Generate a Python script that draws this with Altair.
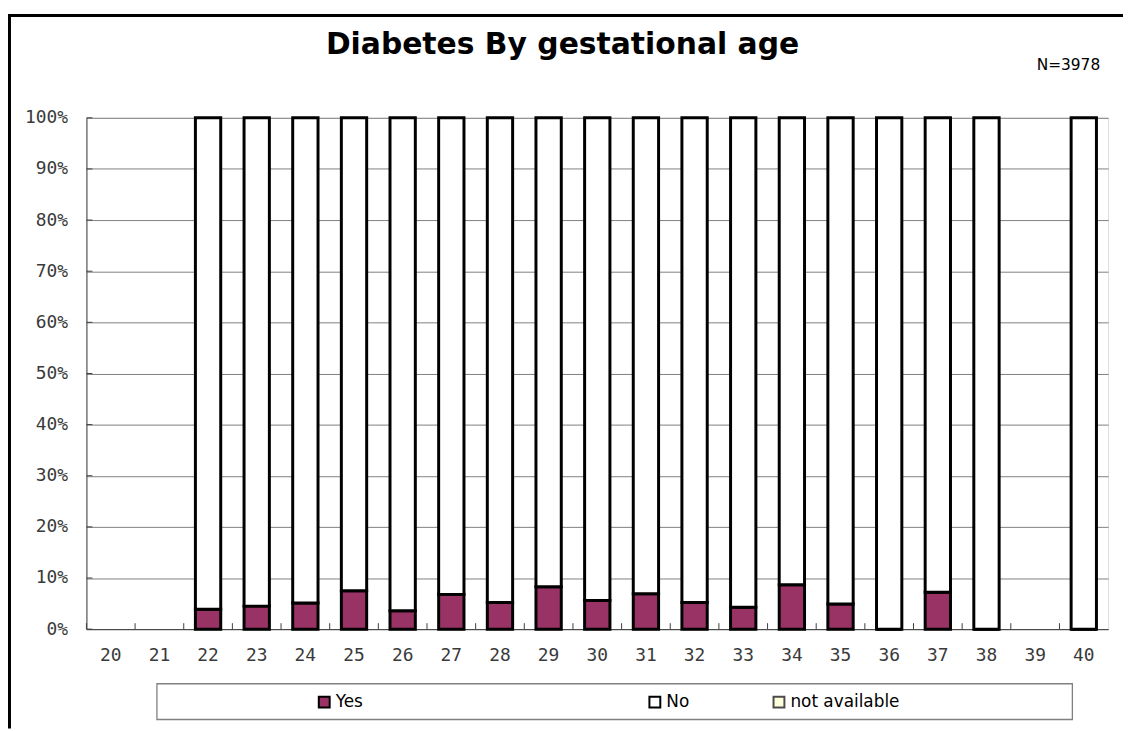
import altair as alt
import pandas as pd

# ---- data ----
ages = [str(a) for a in range(20, 41)]
series = ["Yes", "No", "not available"]
colors = ["#993366", "#FFFFFF", "#FFFFCC"]

bar_ages = ["22", "23", "24", "25", "26", "27", "28", "29", "30", "31",
            "32", "33", "34", "35", "36", "37", "38", "40"]
yes_pct = [3.9, 4.5, 5.1, 7.5, 3.6, 6.8, 5.2, 8.3, 5.6, 6.9,
           5.2, 4.3, 8.7, 4.9, 0.0, 7.2, 0.0, 0.0]
no_pct = [96.1, 95.5, 94.9, 92.5, 96.4, 93.2, 94.8, 91.7, 94.4, 93.1,
          94.8, 95.7, 91.3, 95.1, 100.0, 92.8, 100.0, 100.0]
na_pct = [0.0, 0.0, 0.0, 0.0, 0.0, 0.0, 0.0, 0.0, 0.0, 0.0,
          0.0, 0.0, 0.0, 0.0, 0.0, 0.0, 0.0, 0.0]
y_ticks = [0, 10, 20, 30, 40, 50, 60, 70, 80, 90, 100]
title_text = "Diabetes By gestational age"
n_text = "N=3978"

rows = []
for a, y, n in zip(bar_ages, yes_pct, no_pct):
    rows.append({"age": a, "series": series[0], "pct": y, "ord": 0})
    rows.append({"age": a, "series": series[1], "pct": n, "ord": 1})
df = pd.DataFrame(rows)
na_df = pd.DataFrame({"age": bar_ages, "pct": na_pct, "series": series[2]})

W, H = 1029, 515
AX = "#404040"
mono = "DejaVu Sans Mono"
sans = "DejaVu Sans"

x_scale = alt.Scale(domain=ages, paddingInner=0, paddingOuter=0)
y_scale = alt.Scale(domain=[0, 100], nice=False)

legend_common = dict(title=None, orient="none", direction="horizontal",
                     symbolType="square", symbolSize=120,
                     symbolStrokeColor="black", symbolStrokeWidth=2,
                     symbolOffset=0, labelFont=sans, labelFontSize=17,
                     labelColor="black", labelOffset=3, padding=0)

bars = alt.Chart(df).mark_bar(size=25.5, stroke="black", strokeWidth=3).encode(
    x=alt.X("age:O", scale=x_scale, sort=ages,
            axis=alt.Axis(title=None, labelAngle=0, ticks=False, tickSize=0,
                          labelFont=mono, labelFontSize=18, labelColor="#3a3a3a",
                          labelPadding=18, domainColor=AX, grid=False)),
    y=alt.Y("pct:Q", scale=y_scale, stack="zero",
            axis=alt.Axis(title=None, values=y_ticks, labelExpr="datum.value + '%'",
                          ticks=False, tickSize=0, labelFont=mono, labelFontSize=18,
                          labelColor="#3a3a3a", labelPadding=19, domainColor=AX,
                          grid=True, gridColor="#808080", gridWidth=1)),
    color=alt.Color("series:N", scale=alt.Scale(domain=series[:2], range=colors[:2]),
                    legend=alt.Legend(legendX=231, legendY=580, columns=2,
                                      columnPadding=284, **legend_common)),
    order=alt.Order("ord:Q", sort="ascending"),
)

# "not available" is 0% everywhere: zero-size points that only carry its legend entry
na_layer = alt.Chart(na_df).mark_square(size=0, strokeWidth=0).encode(
    x=alt.X("age:O"),
    y=alt.Y("pct:Q"),
    fill=alt.Fill("series:N", scale=alt.Scale(domain=series[2:], range=colors[2:]),
                  legend=alt.Legend(legendX=689, legendY=580, **legend_common)),
)

x_ticks = alt.Chart(pd.DataFrame({"age": ages})).mark_rule(color=AX, strokeWidth=1).encode(
    x=alt.X("age:O", bandPosition=0),
    y=alt.value(H),
    y2=alt.value(H - 6),
)

y_tick_marks = alt.Chart(pd.DataFrame({"pct": y_ticks})).mark_rule(color=AX, strokeWidth=1).encode(
    y=alt.Y("pct:Q"),
    x=alt.value(0),
    x2=alt.value(6),
)

one = alt.Data(values=[{"k": 1}])

legend_box = alt.Chart(one).mark_rect(fill="white", stroke="#808080", strokeWidth=1.3).encode(
    x=alt.value(71), x2=alt.value(993), y=alt.value(570), y2=alt.value(606)
)

frame_left = alt.Chart(one).mark_rule(color="black", strokeWidth=3).encode(
    x=alt.value(-77.5), y=alt.value(-104), y2=alt.value(H + 100)
)
frame_top = alt.Chart(one).mark_rule(color="black", strokeWidth=3).encode(
    x=alt.value(-79), x2=alt.value(W + 15), y=alt.value(-103)
)

n_label = alt.Chart(one).mark_text(align="right", baseline="middle", font=sans,
                                   fontSize=15.5, color="black").encode(
    x=alt.value(1021), y=alt.value(-53), text=alt.value(n_text)
)

chart = alt.layer(
    frame_left, frame_top, legend_box, bars, na_layer, x_ticks, y_tick_marks, n_label
).properties(
    width=W, height=H,
    title=alt.TitleParams(title_text, font=sans, fontSize=30, fontWeight="bold",
                          color="black", anchor="middle", frame="group", dx=-35,
                          offset=-47),
    padding={"left": 79, "top": 108, "right": 15, "bottom": 100},
    autosize=alt.AutoSizeParams(type="none"),
).configure_view(stroke="#808080", strokeWidth=1).configure(background="white")

chart.save("out.html", embed_options={"renderer": "svg", "actions": False})
